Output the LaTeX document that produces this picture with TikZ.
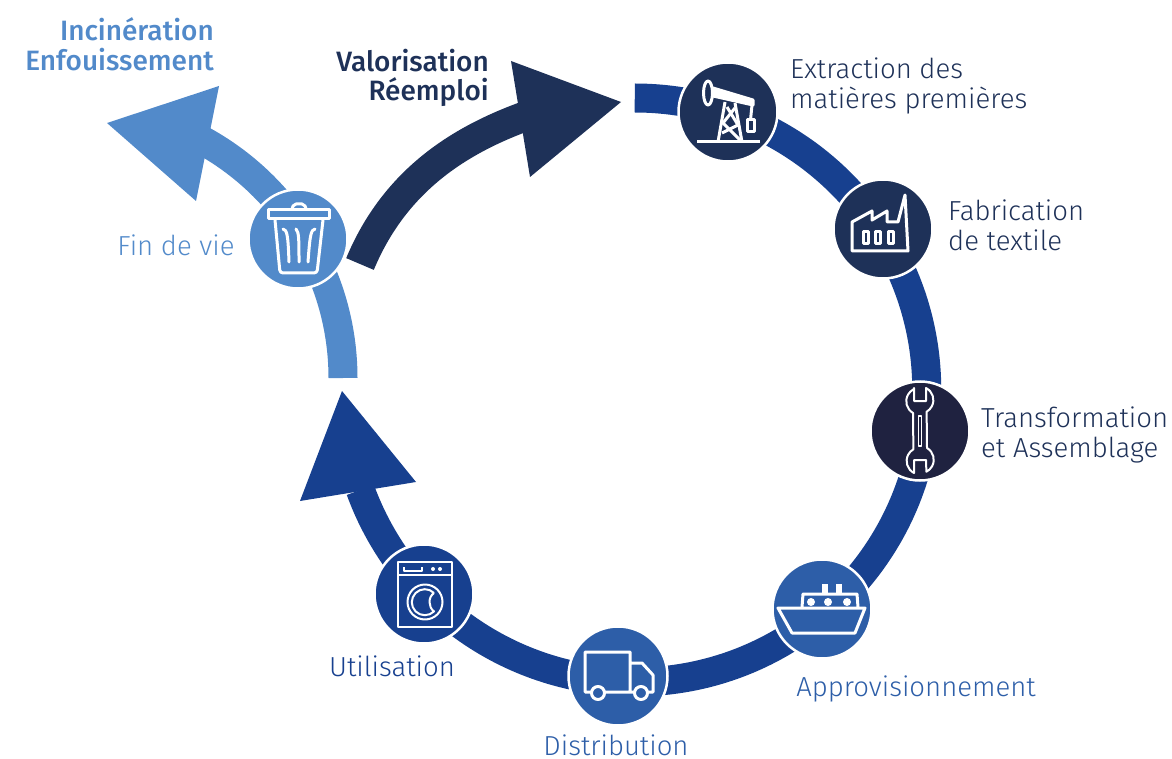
\documentclass[tikz,border=0pt]{standalone}
\usepackage{fontspec}
\setmainfont{Fira Sans}[UprightFont=* Light, BoldFont=* Medium]
\definecolor{ringblue}{HTML}{17408F}
\definecolor{navy}{HTML}{1E3158}
\definecolor{midnight}{HTML}{1F2240}
\definecolor{midblue}{HTML}{2D5EA8}
\definecolor{lightblue}{HTML}{528ACA}
\tikzset{
    station/.style = {circle, draw = white, line width = 2.5pt, minimum size = 99pt, inner sep = 0pt},
    iconline/.style = {draw = white, line width = 3pt, line join = round, fill = none},
    thinicon/.style = {draw = white, line width = 2pt, line join = round, fill = none},
    caption/.style = {font = \fontsize{27.5}{30}\selectfont, inner sep = 0pt},
    strongcaption/.style = {font = \fontsize{28}{29.5}\selectfont\bfseries, inner sep = 0pt, align = right, anchor = east}
}
\begin{document}
\begin{tikzpicture}[x = 1pt, y = -1pt]
    \useasboundingbox (0,0) rectangle (1172,759);
    \draw[ringblue, line width = 29pt] (634.75,98) arc[start angle = -90, end angle = 160, radius = 292];
    \fill[ringblue] (342,391) -- (416,482) -- (300,501) -- cycle;
    \draw[lightblue, line width = 29pt] (343,378) arc[start angle = 0, end angle = -63, radius = 271];
    \fill[lightblue] (107,123) -- (219,86) -- (196,201) -- cycle;
    \draw[navy, line width = 30pt] (360,264) .. controls (395,180) and (460,140) .. (526,116);
    \fill[navy] (621,102) -- (530,177) -- (511,61) -- cycle;
    \node[station, fill = navy] (extraction) at (728,112) {};
    \node[station, fill = navy] (fabrication) at (883,229) {};
    \node[station, fill = midnight] (transformation) at (920,431) {};
    \node[station, fill = midblue] (approvisionnement) at (822,609) {};
    \node[station, fill = midblue] (distribution) at (618,676) {};
    \node[station, fill = ringblue] (utilisation) at (424,594) {};
    \node[station, fill = lightblue] (findevie) at (298,239) {};
    \begin{scope}[style = iconline]
        \draw (697,142) -- (760,142);
        \draw (708,93) ellipse[x radius = 4.5, y radius = 12];
        \draw[fill = white] (713,88) -- (753,100) -- (753,105) -- (713,96) -- cycle;
        \draw (725,102) -- (718,142);
        \draw (735,103) -- (742,142);
        \draw (727,107) -- (738,125) -- (722,133);
        \draw (735,108) -- (723,123) -- (740,140);
        \draw (752,105) -- (750.5,120);
        \draw (747,120) rectangle (754,132);
        \draw (852,251) -- (852,222) -- (872,211) -- (872,220) -- (887,211) -- (887,222) -- (898,222) -- (905,195) -- (908,251) -- cycle;
        \draw (863,232) rectangle (868.5,244);
        \draw (875,232) rectangle (880.5,244);
        \draw (888,232) rectangle (893.5,244);
        \draw (778,608) -- (865,608) -- (855,633) -- (792,633) -- cycle;
        \draw (802,607) -- (803,594) -- (857,594) -- (858,607);
        \fill[white] (822,584) rectangle (828,594);
        \fill[white] (836,584) rectangle (842,594);
        \fill[white] (811,602) circle[radius = 4];
        \fill[white] (828,602) circle[radius = 4];
        \fill[white] (847,602) circle[radius = 4];
        \draw (630,663) -- (642,663) -- (653,675) -- (653,692) -- (585,692) -- (585,652) -- (630,652) -- (630,692);
        \draw[fill = midblue] (598,693) circle[radius = 6.5];
        \draw[fill = midblue] (641,693) circle[radius = 6.5];
        \draw (268,210) rectangle (329,219);
        \draw (292,209) -- (293,206) -- (296,204) -- (302,204) -- (305,206) -- (306,209);
        \draw[rounded corners = 3pt] (275,220) -- (280,273) -- (317,273) -- (323,220);
    \end{scope}
    \begin{scope}[style = iconline, line cap = round]
        \draw (283,229) .. controls (287,230) and (288,234) .. (289,262);
        \draw (296,229) .. controls (299,232) and (299,240) .. (299,262);
        \draw (315,229) .. controls (311,230) and (310,234) .. (308,262);
    \end{scope}
    \begin{scope}[style = thinicon]
        \draw (914,388) -- (914,401) -- (926,401) -- (926,388) arc[start angle = -63, end angle = 60, radius = 13.5] -- (927,448) arc[start angle = -60, end angle = 63, radius = 13.5] -- (926,460) -- (914,460) -- (914,473) arc[start angle = 117, end angle = 240, radius = 13.5] -- (913,413) arc[start angle = 120, end angle = 243, radius = 13.5] -- cycle;
        \draw[line width = 1.4pt] (918.3,416) rectangle (921.7,446);
        \draw (398,562) rectangle (452,627);
        \draw (398,575) -- (452,575);
        \draw (404,567) -- (404,571) -- (422,571) -- (422,567);
        \fill[white] (433,569) circle[radius = 2];
        \fill[white] (440,569) circle[radius = 2];
        \draw (425,602) circle[radius = 17.5];
        \draw (434,593) arc[start angle = -45, end angle = -315, radius = 13] .. controls (428,607) and (428,597) .. (434,593);
    \end{scope}
    \node[caption, navy, align = left, anchor = west] (extractionlabel) at (790,86) {Extraction des\\matières premières};
    \node[caption, navy, align = left, anchor = west] (fabricationlabel) at (948,225) {Fabrication\\de textile};
    \node[caption, navy, align = left, anchor = west] (transformationlabel) at (981,435) {Transformation\\et Assemblage};
    \node[caption, midblue] (approvisionnementlabel) at (916,689) {Approvisionnement};
    \node[caption, midblue] (distributionlabel) at (616,745) {Distribution};
    \node[caption, ringblue] (utilisationlabel) at (392,666) {Utilisation};
    \node[caption, lightblue] (findevielabel) at (176,245) {Fin de vie};
    \node[strongcaption, lightblue] (incinerationlabel) at (214,44) {Incinération\\Enfouissement};
    \node[strongcaption, navy] (valorisationlabel) at (489,78) {Valorisation\\Réemploi};
\end{tikzpicture}
\end{document}
